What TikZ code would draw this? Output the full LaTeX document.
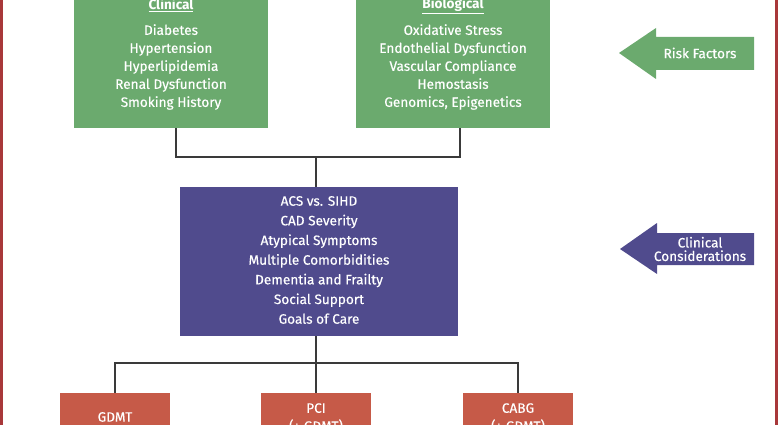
\documentclass[tikz,border=0pt]{standalone}
\usepackage{fontspec}
\setmainfont{Fira Sans}
\newfontfamily\bodyf{Fira Sans}[FakeBold=0.35]
\usetikzlibrary{calc}
\definecolor{grn}{HTML}{6BAA6E}
\definecolor{pur}{HTML}{504B8D}
\definecolor{redb}{HTML}{C65A48}
\definecolor{frame}{HTML}{A8383A}
\definecolor{lin}{HTML}{3A3A3A}
\tikzset{
  box/.style={draw=none, inner sep=0pt},
  gbox/.style={box, fill=grn},
  pbox/.style={box, fill=pur},
  rbox/.style={box, fill=redb},
  txt/.style={text=white, align=center, inner sep=0pt, font=\bodyf\fontsize{13.6}{18}\selectfont},
  ptxt/.style={txt, font=\bodyf\fontsize{13.6}{19.67}\selectfont},
  hdr/.style={txt, font=\fontsize{13.6}{18}\selectfont\bfseries},
  conn/.style={draw=lin, line width=1.1pt},
}
\begin{document}
\begin{tikzpicture}[x=1pt,y=-1pt]
\useasboundingbox (0,0) rectangle (778,425);
\clip (0,0) rectangle (778,425);
% frame sides
\fill[frame] (0,-5) rectangle (3,430);
\fill[frame] (775,-5) rectangle (778,430);

% green boxes
\node[gbox, minimum width=194pt, minimum height=148pt] (clin) at (171,54) {};
\node[gbox, minimum width=194pt, minimum height=148pt] (bio) at (453,54) {};
\node[hdr] (clinh) at (171,5.5) {\underline{Clinical}};
\node[txt] (clint) at (171,67) {Diabetes\\Hypertension\\Hyperlipidemia\\Renal Dysfunction\\Smoking History};
\node[hdr] (bioh) at (453,5.5) {\underline{Biological}};
\node[txt] (biot) at (453,67) {Oxidative Stress\\Endothelial Dysfunction\\Vascular Compliance\\Hemostasis\\Genomics, Epigenetics};

% purple box
\node[pbox, minimum width=278pt, minimum height=149pt] (cc) at (319,261.5) {};
\node[ptxt] (cct) at (319,260) {ACS vs. SIHD\\CAD Severity\\Atypical Symptoms\\Multiple Comorbidities\\Dementia and Frailty\\Social Support\\Goals of Care};

% red boxes
\node[rbox, minimum width=110pt, minimum height=60pt] (gdmt) at (115,423) {};
\node[rbox, minimum width=110pt, minimum height=60pt] (pci) at (316,423) {};
\node[rbox, minimum width=110pt, minimum height=60pt] (cabg) at (518,423) {};
\node[txt] (gdmtt) at (115,417) {GDMT};
\node[txt] (pcit) at (316,418) {PCI\\(+ GDMT)};
\node[txt] (cabgt) at (518,418) {CABG\\(+ GDMT)};

% connectors top
\coordinate (j1) at (316,157);
\draw[conn] ([xshift=5pt]clin.south) |- (j1) -| ([xshift=7pt]bio.south);
\draw[conn] (j1) -- (j1 |- cc.north);
% connectors bottom
\coordinate (j2) at (316,363);
\draw[conn] (j2 |- cc.south) -- (j2);
\draw[conn] (gdmt.north) |- (j2) -| (cabg.north);
\draw[conn] (j2) -- (pci.north);

% side arrows
\fill[grn] (619,53) -- (656,28) -- (656,37) -- (754,37) -- (754,70) -- (656,70) -- (656,79) -- cycle;
\node[txt] (rf) at (700,53) {Risk Factors};
\fill[pur] (620,249) -- (657,223) -- (657,233) -- (754,233) -- (754,265) -- (657,265) -- (657,274) -- cycle;
\node[txt, font=\bodyf\fontsize{13.6}{13.5}\selectfont] (ccl) at (700,249) {Clinical\\Considerations};
\end{tikzpicture}
\end{document}
